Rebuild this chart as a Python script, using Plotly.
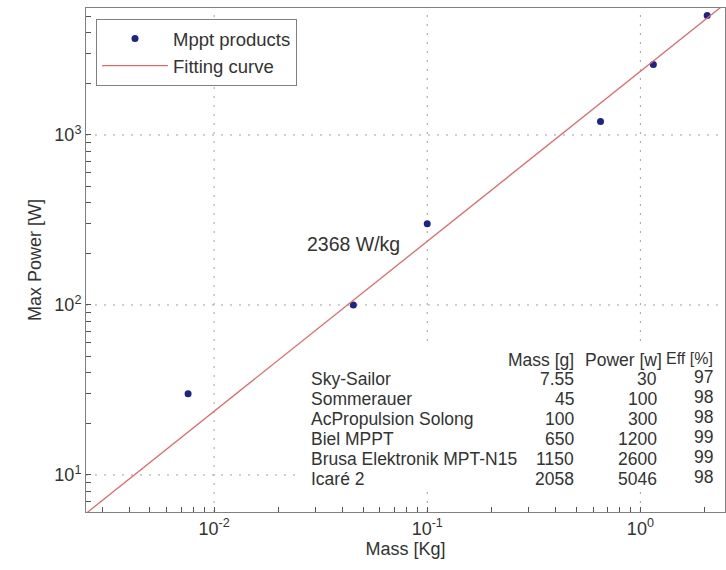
import plotly.graph_objects as go

# ---- data ----
names = ["Sky-Sailor", "Sommerauer", "AcPropulsion Solong", "Biel MPPT",
         "Brusa Elektronik MPT-N15", "Icaré 2"]
mass_g = [7.55, 45, 100, 650, 1150, 2058]
power_w = [30, 100, 300, 1200, 2600, 5046]
eff_pct = [97, 98, 98, 99, 99, 98]
mass_kg = [m / 1000 for m in mass_g]

fit_mass = [0.0025, 2.5]
fit_power = [5.92, 5920]

x_ticks = [0.01, 0.1, 1]
x_ticktext = ["10<sup>-2</sup>", "10<sup>-1</sup>", "10<sup>0</sup>"]
y_ticks = [10, 100, 1000]
y_ticktext = ["10<sup>1</sup>", "10<sup>2</sup>", "10<sup>3</sup>"]
x_minor = [k * 10.0 ** e for e in (-3, -2, -1, 0) for k in range(2, 10)]
y_minor = [k * 10.0 ** e for e in (0, 1, 2, 3) for k in range(2, 10)]

x_range = [-2.601, 0.397]
y_range = [0.782, 3.747]

# ---- layout geometry ----
W, H = 726, 570
L, R, T, B = 86, 1, 8, 58
PW, PH = W - L - R, H - T - B


def px(x):
    return (x - L) / PW


def py(y):
    return 1 - (y - T) / PH


FONT = "Liberation Sans, Arial, sans-serif"
TXT = "#333333"
AX = "#808080"
TICK = "#555555"
GRID = "#a0a0a0"


def all_ticks(major, major_text, minor):
    vals = major + minor
    text = major_text + [""] * len(minor)
    return vals, text


xv, xt = all_ticks(x_ticks, x_ticktext, x_minor)
yv, yt = all_ticks(y_ticks, y_ticktext, y_minor)

fig = go.Figure()
fig.add_trace(go.Scatter(x=mass_kg, y=power_w, mode="markers", name="Mppt products",
                         marker=dict(color="#1c2486", size=7)))
fig.add_trace(go.Scatter(x=fit_mass, y=fit_power, mode="lines", name="Fitting curve",
                         line=dict(color="#e06a6a", width=1.3)))

axis_common = dict(
    type="log", showline=True, linecolor=AX, linewidth=1, mirror=True,
    ticks="inside", ticklen=5, tickcolor=TICK, tickwidth=1.3,
    showgrid=False, zeroline=False, tickfont=dict(family=FONT, size=18, color=TXT),
    tickmode="array",
)

fig.update_layout(
    xaxis=dict(**axis_common, range=x_range, tickvals=xv, ticktext=xt,
               title=dict(text="Mass [Kg]", font=dict(family=FONT, size=18, color=TXT), standoff=4)),
    yaxis=dict(**axis_common, range=y_range, tickvals=yv, ticktext=yt,
               title=dict(text="Max Power [W]", font=dict(family=FONT, size=18, color=TXT), standoff=8)),
)

# dotted grid at the decades
for v in x_ticks:
    fig.add_shape(type="line", xref="x", yref="paper", x0=v, x1=v, y0=0, y1=1, layer="below",
                  line=dict(color=GRID, width=1, dash="2px,7px"))
for v in y_ticks:
    fig.add_shape(type="line", xref="paper", yref="y", x0=0, x1=1, y0=v, y1=v, layer="below",
                  line=dict(color=GRID, width=1, dash="2px,7px"))

# white box behind the table (covers grid)
fig.add_shape(type="rect", xref="paper", yref="paper", layer="above",
              x0=px(302), x1=px(722), y0=py(490), y1=py(347),
              fillcolor="white", line=dict(width=0))

ann = []
ann.append(dict(text="2368 W/kg", x=px(305), y=py(244), xanchor="left", yanchor="middle",
                font=dict(size=19.5)))
row_y0, row_dy = 379, 20
hdr_y = 360
ann.append(dict(text="Mass [g]", x=px(576), y=py(hdr_y), xanchor="right", yanchor="middle"))
ann.append(dict(text="Power [w]", x=px(664), y=py(hdr_y), xanchor="right", yanchor="middle"))
ann.append(dict(text="Eff [%]", x=px(715), y=py(hdr_y - 2), xanchor="right", yanchor="middle",
                font=dict(size=16)))
for i, (n, m, p, e) in enumerate(zip(names, mass_g, power_w, eff_pct)):
    yy = py(row_y0 + i * row_dy)
    ann.append(dict(text=n, x=px(309), y=yy, xanchor="left", yanchor="middle"))
    ann.append(dict(text=f"{m:g}", x=px(576), y=yy, xanchor="right", yanchor="middle"))
    ann.append(dict(text=f"{p}", x=px(659), y=yy, xanchor="right", yanchor="middle"))
    ann.append(dict(text=f"{e}", x=px(715), y=py(row_y0 - 2 + i * row_dy), xanchor="right",
                    yanchor="middle"))
for a in ann:
    size = a.get("font", {}).get("size", 17.5)
    a["font"] = dict(family=FONT, size=size, color=TXT)
    a.update(xref="paper", yref="paper", showarrow=False)

fig.update_layout(
    width=W, height=H, margin=dict(l=L, r=R, t=T, b=B),
    paper_bgcolor="white", plot_bgcolor="white",
    annotations=ann,
    showlegend=True,
    legend=dict(x=px(96), y=py(19), xanchor="left", yanchor="top",
                bgcolor="white", bordercolor=AX, borderwidth=1,
                font=dict(family=FONT, size=18.5, color=TXT),
                itemwidth=66, tracegroupgap=0),
)

fig.write_html("out.html")
